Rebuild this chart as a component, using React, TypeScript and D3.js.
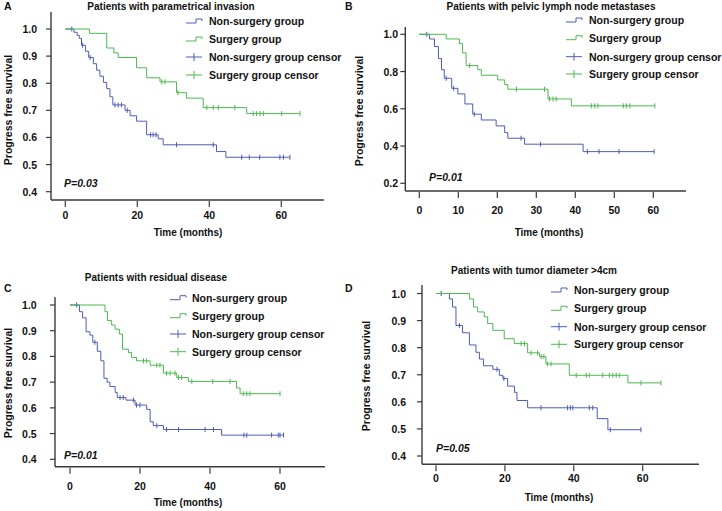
import React from "react";
import * as d3 from "d3";

// ---------- DATA ----------
const legendLabels = ["Non-surgery group", "Surgery group", "Non-surgery group censor", "Surgery group censor"];
const xLabel = "Time (months)";
const yLabel = "Progress free survival";

// Panel A
const aTitle = "Patients with parametrical invasion";
const aP = "P=0.03";
const aXTicks = [0, 20, 40, 60];
const aYTicks = [0.4, 0.5, 0.6, 0.7, 0.8, 0.9, 1.0];
const aNonTimes = [0, 2.4, 3.3, 3.9, 4.5, 5.6, 6.5, 7.8, 8.7, 9.6, 10.6, 11.5, 12.4, 13.2, 16.6, 18, 19.8, 22.6, 25.8, 27.2, 42, 44.6];
const aNonSurv = [1, 0.988, 0.976, 0.965, 0.94, 0.918, 0.895, 0.872, 0.848, 0.826, 0.803, 0.78, 0.75, 0.72, 0.7, 0.68, 0.66, 0.61, 0.595, 0.573, 0.548, 0.527];
const aNonCensor = [1.8, 4.8, 6.9, 13.8, 14.7, 15.6, 17.2, 23.7, 24.4, 25.2, 30.9, 41.1, 49, 51.1, 54, 59.6, 60.6, 62.4];
const aSurTimes = [0, 6.7, 11.5, 13.5, 14.7, 19.8, 22.6, 26.3, 30.9, 33.7, 38.3, 50.4];
const aSurSurv = [1, 0.984, 0.93, 0.912, 0.895, 0.857, 0.82, 0.805, 0.765, 0.745, 0.71, 0.688];
const aSurCensor = [26.8, 27.7, 31.3, 39.3, 41.1, 42.5, 47.1, 52.2, 53.1, 54.1, 55, 60.1, 65.2];

// Panel B
const bTitle = "Patients with pelvic lymph node metastases";
const bP = "P=0.01";
const bXTicks = [0, 10, 20, 30, 40, 50, 60];
const bYTicks = [0.2, 0.4, 0.6, 0.8, 1.0];
const bNonTimes = [0, 2.6, 3.9, 4.9, 5.7, 6.4, 8.3, 9.9, 11.7, 13.7, 15.9, 19.7, 21.9, 22.7, 27, 42];
const bNonSurv = [1, 0.975, 0.934, 0.87, 0.81, 0.764, 0.71, 0.68, 0.626, 0.571, 0.54, 0.508, 0.472, 0.442, 0.41, 0.37];
const bNonCensor = [1.9, 6.9, 8.8, 14.1, 26.1, 31.1, 43.1, 46.1, 51.2, 60.2];
const bSurTimes = [0, 6.9, 10.3, 11.1, 12, 15, 15.9, 20.1, 21.9, 22.7, 33, 39];
const bSurSurv = [1, 0.975, 0.95, 0.9, 0.832, 0.81, 0.78, 0.755, 0.73, 0.705, 0.653, 0.616];
const bSurCensor = [12.9, 24.9, 32.1, 33.4, 34.3, 35.1, 44.1, 45, 45.8, 52.3, 53.1, 54, 60.4];

// Panel C
const cTitle = "Patients with residual disease";
const cP = "P=0.01";
const cXTicks = [0, 20, 40, 60];
const cYTicks = [0.4, 0.5, 0.6, 0.7, 0.8, 0.9, 1.0];
const cNonTimes = [0, 2.7, 3.6, 4.6, 5.7, 6.5, 7.8, 8.8, 9.7, 10.6, 11.4, 12.9, 13.5, 16, 18.6, 21.9, 22.9, 23.8, 26.7, 43.3];
const cNonSurv = [1, 0.974, 0.95, 0.896, 0.883, 0.855, 0.82, 0.783, 0.715, 0.7, 0.683, 0.66, 0.64, 0.63, 0.611, 0.594, 0.546, 0.531, 0.516, 0.494];
const cNonCensor = [1.9, 7.1, 14.3, 15.2, 18.1, 19, 20, 24.8, 27.6, 31, 38.6, 41, 49.7, 50.5, 57.6, 59.5, 60, 61];
const cSurTimes = [0, 10, 10.7, 11.9, 12.9, 14.1, 15, 16.7, 17.6, 19, 22.9, 26.7, 30.5, 33.8, 47.6, 48.6];
const cSurSurv = [1, 0.974, 0.94, 0.922, 0.906, 0.887, 0.828, 0.815, 0.796, 0.783, 0.766, 0.735, 0.718, 0.703, 0.677, 0.655];
const cSurCensor = [21, 21.9, 24.8, 25.7, 27.6, 28.6, 30, 31, 31.9, 34.8, 40.8, 45.7, 49.5, 50.5, 51.4, 60];

// Panel D
const dTitle = "Patients with tumor diameter >4cm";
const dP = "P=0.05";
const dXTicks = [0, 20, 40, 60];
const dYTicks = [0.4, 0.5, 0.6, 0.7, 0.8, 0.9, 1.0];
const dNonTimes = [0, 3.9, 4.8, 5.8, 7.7, 9.7, 11.6, 12.6, 13.8, 16.5, 18.4, 19.4, 20.8, 22.8, 23.5, 26.6, 46.8, 49.9];
const dNonSurv = [1, 0.98, 0.95, 0.882, 0.855, 0.81, 0.783, 0.758, 0.733, 0.72, 0.698, 0.686, 0.658, 0.635, 0.605, 0.578, 0.538, 0.497];
const dNonCensor = [1.5, 6.8, 17.7, 19.7, 30.5, 38.2, 39, 39.7, 44.5, 45.5, 50.6, 59.5];
const dSurTimes = [0, 9.7, 10.9, 12.1, 14, 15, 16.5, 19.8, 22.7, 26.6, 30, 31.9, 38.7, 55.7];
const dSurSurv = [1, 0.98, 0.95, 0.932, 0.914, 0.889, 0.864, 0.833, 0.815, 0.781, 0.767, 0.74, 0.698, 0.67];
const dSurCensor = [24.7, 25.7, 27.6, 29.5, 30.5, 31.3, 32.4, 33.4, 40.7, 43.6, 44.5, 48.4, 50.3, 51.3, 52.3, 53.2, 59.5, 65.3];

// ---------- STYLE ----------
const BLUE = "#4d5db5";
const GREEN = "#4db84f";
const AXIS = "#3a3a3a";
const FONT = "'Liberation Sans', Arial, sans-serif";

type Layout = {
  letter: string; letterX: number; letterY: number;
  title: string; titleX: number; titleY: number;
  xr: [number, number]; yr: [number, number]; ydom: [number, number];
  axisX: number; axisTop: number; axisY: number; axisRight: number;
  ytickLabelX: number; xtickLabelY: number;
  xLabelX: number; xLabelY: number;
  yLabelX: number; yLabelY: number;
  legX: number; legTextX: number; legRows: number[];
  pX: number; pY: number; p: string;
  xTicks: number[]; yTicks: number[];
  non: { t: number[]; s: number[]; c: number[] };
  sur: { t: number[]; s: number[]; c: number[] };
};

function stepValue(times: number[], surv: number[], t: number) {
  let v = surv[0];
  for (let i = 0; i < times.length; i++) if (times[i] <= t) v = surv[i];
  return v;
}

function Curve({ d, color, x, y }: any) {
  const end = Math.max(d.t[d.t.length - 1], ...d.c);
  const pts: [number, number][] = d.t.map((t: number, i: number) => [t, d.s[i]]);
  pts.push([end, d.s[d.s.length - 1]]);
  const line = d3.line<[number, number]>().x(p => x(p[0])).y(p => y(p[1])).curve(d3.curveStepAfter);
  return (
    <g>
      <path d={line(pts) || ""} fill="none" stroke={color} strokeWidth={1} />
      {d.c.map((t: number, i: number) => {
        const cx = x(t), cy = y(stepValue(d.t, d.s, t));
        return <line key={i} x1={cx} x2={cx} y1={cy - 2.5} y2={cy + 2.5} stroke={color} strokeWidth={1} />;
      })}
    </g>
  );
}

function Panel({ L }: { L: Layout }) {
  const x = d3.scaleLinear().domain([0, 60]).range(L.xr);
  const y = d3.scaleLinear().domain(L.ydom).range(L.yr);
  const colors = [BLUE, GREEN, BLUE, GREEN];
  return (
    <g fontFamily={FONT} fontWeight="bold" fill="#111">
      <text x={L.letterX} y={L.letterY} fontSize={10.5} dominantBaseline="central">{L.letter}</text>
      <text x={L.titleX} y={L.titleY} fontSize={10} textAnchor="middle" dominantBaseline="central">{L.title}</text>
      {/* axes */}
      <line x1={L.axisX} x2={L.axisX} y1={L.axisTop} y2={L.axisY} stroke={AXIS} strokeWidth={1.4} />
      <line x1={L.axisX} x2={L.axisRight} y1={L.axisY} y2={L.axisY} stroke={AXIS} strokeWidth={1.4} />
      {L.yTicks.map(v => (
        <g key={"y" + v}>
          <line x1={L.axisX - 5} x2={L.axisX} y1={y(v)} y2={y(v)} stroke={AXIS} strokeWidth={1.2} />
          <text x={L.ytickLabelX} y={y(v)} fontSize={10.5} textAnchor="end" dominantBaseline="central">{d3.format(".1f")(v)}</text>
        </g>
      ))}
      {L.xTicks.map(v => (
        <g key={"x" + v}>
          <line x1={x(v)} x2={x(v)} y1={L.axisY + 1} y2={L.axisY + 7} stroke={AXIS} strokeWidth={1.2} />
          <text x={x(v)} y={L.xtickLabelY} fontSize={10.5} textAnchor="middle" dominantBaseline="central">{v}</text>
        </g>
      ))}
      <text x={L.xLabelX} y={L.xLabelY} fontSize={10} textAnchor="middle" dominantBaseline="central">{xLabel}</text>
      <text transform={`translate(${L.yLabelX},${L.yLabelY}) rotate(-90)`} fontSize={10.5} textAnchor="middle" dominantBaseline="central">{yLabel}</text>
      <text x={L.pX} y={L.pY} fontSize={10.5} fontStyle="italic" dominantBaseline="central">{L.p}</text>
      {/* curves */}
      <Curve d={L.non} color={BLUE} x={x} y={y} />
      <Curve d={L.sur} color={GREEN} x={x} y={y} />
      {/* legend */}
      {legendLabels.map((lab, i) => {
        const ry = L.legRows[i];
        const lx = L.legX;
        const icon = i < 2
          ? <path d={`M${lx},${ry + 2}H${lx + 10}V${ry - 2}H${lx + 16}V${ry}`} fill="none" stroke={colors[i]} strokeWidth={1} />
          : <g>
              <line x1={lx} x2={lx + 16} y1={ry} y2={ry} stroke={colors[i]} strokeWidth={1} />
              <line x1={lx + 8} x2={lx + 8} y1={ry - 4} y2={ry + 4} stroke={colors[i]} strokeWidth={1} />
            </g>;
        return (
          <g key={lab}>
            {icon}
            <text x={L.legTextX} y={ry} fontSize={10.5} dominantBaseline="central">{lab}</text>
          </g>
        );
      })}
    </g>
  );
}

const panels: Layout[] = [
  {
    letter: "A", letterX: 4, letterY: 6, title: aTitle, titleX: 171, titleY: 6,
    xr: [65.3, 281.3], yr: [191.7, 29], ydom: [0.4, 1.0],
    axisX: 51, axisTop: 12, axisY: 200, axisRight: 324,
    ytickLabelX: 37, xtickLabelY: 215, xLabelX: 188, xLabelY: 232.5,
    yLabelX: 8, yLabelY: 110,
    legX: 186, legTextX: 209, legRows: [21, 39, 57, 75],
    pX: 64, pY: 183, p: aP, xTicks: aXTicks, yTicks: aYTicks,
    non: { t: aNonTimes, s: aNonSurv, c: aNonCensor }, sur: { t: aSurTimes, s: aSurSurv, c: aSurCensor },
  },
  {
    letter: "B", letterX: 345, letterY: 6, title: bTitle, titleX: 551, titleY: 6.7,
    xr: [419.3, 653.3], yr: [183.3, 34.3], ydom: [0.2, 1.0],
    axisX: 405.3, axisTop: 27, axisY: 191, axisRight: 686,
    ytickLabelX: 398, xtickLabelY: 210, xLabelX: 549, xLabelY: 232,
    yLabelX: 359, yLabelY: 111,
    legX: 566, legTextX: 589, legRows: [20, 37.7, 56.7, 74],
    pX: 429, pY: 176.7, p: bP, xTicks: bXTicks, yTicks: bYTicks,
    non: { t: bNonTimes, s: bNonSurv, c: bNonCensor }, sur: { t: bSurTimes, s: bSurSurv, c: bSurCensor },
  },
  {
    letter: "C", letterX: 4, letterY: 288, title: cTitle, titleX: 156, titleY: 277.7,
    xr: [70, 280], yr: [459.3, 305], ydom: [0.4, 1.0],
    axisX: 55, axisTop: 297, axisY: 466.7, axisRight: 325,
    ytickLabelX: 36.7, xtickLabelY: 485.7, xLabelX: 188, xLabelY: 502.7,
    yLabelX: 8, yLabelY: 383,
    legX: 170, legTextX: 192, legRows: [297.7, 315.7, 334, 351.7],
    pX: 64, pY: 455, p: cP, xTicks: cXTicks, yTicks: cYTicks,
    non: { t: cNonTimes, s: cNonSurv, c: cNonCensor }, sur: { t: cSurTimes, s: cSurSurv, c: cSurCensor },
  },
  {
    letter: "D", letterX: 345, letterY: 288, title: dTitle, titleX: 534, titleY: 270,
    xr: [436, 642.7], yr: [456, 293.5], ydom: [0.4, 1.0],
    axisX: 422, axisTop: 285, axisY: 464.3, axisRight: 699,
    ytickLabelX: 406, xtickLabelY: 478.3, xLabelX: 559, xLabelY: 497.7,
    yLabelX: 366, yLabelY: 376,
    legX: 551, legTextX: 574, legRows: [290, 308.3, 326.7, 344.3],
    pX: 436, pY: 447.7, p: dP, xTicks: dXTicks, yTicks: dYTicks,
    non: { t: dNonTimes, s: dNonSurv, c: dNonCensor }, sur: { t: dSurTimes, s: dSurSurv, c: dSurCensor },
  },
];

export default function App() {
  return (
    <div style={{ position: "absolute", left: 0, top: 0 }}>
      <svg width={722} height={511} style={{ display: "block", background: "#fff" }}>
        <rect width={722} height={511} fill="#fff" />
        {panels.map(L => <Panel key={L.letter} L={L} />)}
      </svg>
    </div>
  );
}
